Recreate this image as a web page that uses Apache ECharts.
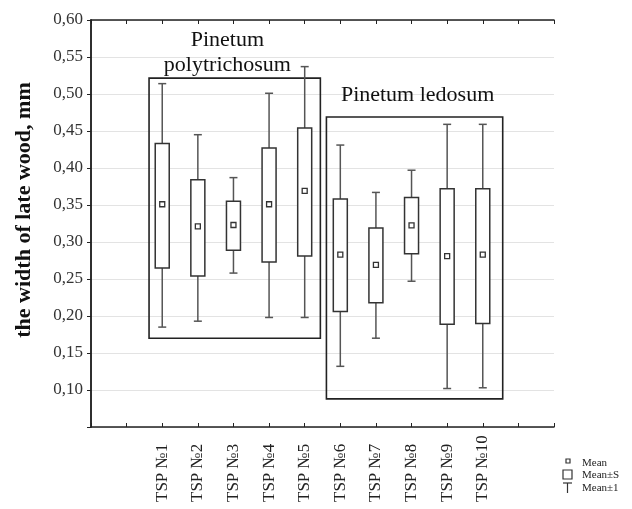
<!DOCTYPE html>
<html>
<head>
<meta charset="utf-8">
<script src="https://cdn.jsdelivr.net/npm/echarts@6/dist/echarts.min.js"></script>
<style>
html,body{margin:0;padding:0;background:#fff;}
#chart{width:632px;height:509px;}
</style>
</head>
<body>
<div id="chart"></div>
<script>
// ---- data ----
const categories = ['TSP №1','TSP №2','TSP №3','TSP №4','TSP №5','TSP №6','TSP №7','TSP №8','TSP №9','TSP №10'];
const meanVals = [0.351,0.321,0.323,0.351,0.369,0.283,0.269,0.3225,0.281,0.283];
const sLow     = [0.265,0.254,0.289,0.273,0.281,0.206,0.218,0.284,0.189,0.190];
const sHigh    = [0.433,0.384,0.355,0.427,0.454,0.358,0.319,0.360,0.372,0.372];
const wLow     = [0.185,0.193,0.258,0.198,0.198,0.132,0.170,0.247,0.102,0.103];
const wHigh    = [0.514,0.445,0.387,0.501,0.537,0.431,0.367,0.397,0.459,0.459];
const yMin = 0.05, yMax = 0.60, yStep = 0.05;
const yTitle = 'the width of late wood, mm';
// group annotation frames (in axis units)
const groupLines = [['Pinetum','polytrichosum'],['Pinetum ledosum']];
const groupX0 = [1.63, 6.61];
const groupX1 = [6.44, 11.56];
const groupY0 = [0.170, 0.088];
const groupY1 = [0.5215, 0.469];
const groupLabelX = [3.83, 9.17];
const groupLabelY = [[0.573, 0.539],[0.4986]];
const legendTexts = ['Mean','Mean±S','Mean±1'];

const FONT = "'Liberation Serif','Times New Roman',serif";
const offset = 2; // category i is drawn at x = i + offset

const chart = echarts.init(document.getElementById('chart'), null, {renderer:'canvas'});

const boxData = categories.map((c,i)=>[i+offset, wLow[i], sLow[i], meanVals[i], sHigh[i], wHigh[i]]);

function renderBox(params, api){
  const x = api.value(0);
  const pWL = api.coord([x, api.value(1)]);
  const pQ1 = api.coord([x, api.value(2)]);
  const pM  = api.coord([x, api.value(3)]);
  const pQ3 = api.coord([x, api.value(4)]);
  const pWH = api.coord([x, api.value(5)]);
  const hb = 7, hc = 4, hm = 2.5;
  const wStyle = {stroke:'#555', lineWidth:1.5};
  const bStyle = {stroke:'#333', lineWidth:1.5, fill:'#fff'};
  return {type:'group', children:[
    {type:'line', shape:{x1:pWH[0], y1:pWH[1], x2:pQ3[0], y2:pQ3[1]}, style:wStyle},
    {type:'line', shape:{x1:pQ1[0], y1:pQ1[1], x2:pWL[0], y2:pWL[1]}, style:wStyle},
    {type:'line', shape:{x1:pWH[0]-hc, y1:pWH[1], x2:pWH[0]+hc, y2:pWH[1]}, style:wStyle},
    {type:'line', shape:{x1:pWL[0]-hc, y1:pWL[1], x2:pWL[0]+hc, y2:pWL[1]}, style:wStyle},
    {type:'rect', shape:{x:pQ3[0]-hb, y:pQ3[1], width:2*hb, height:pQ1[1]-pQ3[1]}, style:bStyle},
    {type:'rect', shape:{x:pM[0]-hm, y:pM[1]-hm, width:2*hm, height:2*hm}, style:{stroke:'#333', lineWidth:1.3, fill:'#fff'}}
  ]};
}

const groupData = groupLines.map((g,i)=>[groupX0[i], groupY0[i], groupX1[i], groupY1[i], i]);
function renderGroup(params, api){
  const i = api.value(4);
  const a = api.coord([api.value(0), api.value(3)]);
  const b = api.coord([api.value(2), api.value(1)]);
  const children = [
    {type:'rect', shape:{x:a[0], y:a[1], width:b[0]-a[0], height:b[1]-a[1]},
     style:{stroke:'#222', lineWidth:1.6, fill:'none'}}
  ];
  groupLines[i].forEach((t,k)=>{
    const p = api.coord([groupLabelX[i], groupLabelY[i][k]]);
    children.push({type:'text', x:p[0], y:p[1],
      style:{text:t, fill:'#111', font:'22px '+FONT, align:'center', verticalAlign:'middle'}});
  });
  return {type:'group', children};
}

const option = {
  animation:false,
  backgroundColor:'#fff',
  grid:{left:91, right:78, top:20, bottom:82, containLabel:false},
  xAxis:[{
    type:'value', min:0, max:13, interval:1,
    axisLine:{show:true, lineStyle:{color:'#222', width:1.5}},
    axisTick:{show:true, inside:true, length:4, lineStyle:{color:'#222'}},
    splitLine:{show:false},
    axisLabel:{rotate:90, margin:9, color:'#222',
      formatter:v=>{const i=Math.round(v)-offset; return (i>=0&&i<categories.length)?'{a|'+categories[i]+'}':'';},
      rich:{a:{width:66, align:'left', fontFamily:FONT, fontSize:17, color:'#222'}}}
  },{
    type:'value', position:'top', min:0, max:13, interval:1,
    axisLine:{show:true, lineStyle:{color:'#222', width:1.5}},
    axisTick:{show:true, inside:true, length:4, lineStyle:{color:'#222'}},
    axisLabel:{show:false}, splitLine:{show:false}
  }],
  yAxis:[{
    type:'value', min:yMin, max:yMax, interval:yStep,
    axisLine:{show:true, lineStyle:{color:'#222', width:1.5}},
    axisTick:{show:true, inside:false, length:4, lineStyle:{color:'#222'}},
    splitLine:{show:true, lineStyle:{color:'#e3e3e3', width:1}},
    axisLabel:{margin:8, fontFamily:FONT, fontSize:17, color:'#333',
      formatter:v=> v < yMin + yStep/2 ? '' : v.toFixed(2).replace('.', ',')}
  },{
    type:'value', position:'right', min:yMin, max:yMax, interval:yStep,
    axisLine:{show:true, lineStyle:{color:'#222', width:1.5}},
    axisTick:{show:true, inside:true, length:4, lineStyle:{color:'#222'}},
    axisLabel:{show:false}, splitLine:{show:false}
  }],
  graphic:[
    {type:'text', x:24, y:210, rotation:Math.PI/2,
     style:{text:yTitle, font:'bold 22px '+FONT, fill:'#111', align:'center', verticalAlign:'middle'}},
    {type:'rect', shape:{x:566, y:459, width:4, height:4}, style:{stroke:'#333', lineWidth:1.2, fill:'#fff'}},
    {type:'text', x:582, y:463, style:{text:legendTexts[0], font:'11px '+FONT, fill:'#222', verticalAlign:'middle'}},
    {type:'rect', shape:{x:563, y:470, width:9, height:9}, style:{stroke:'#333', lineWidth:1.2, fill:'#fff'}},
    {type:'text', x:582, y:475, style:{text:legendTexts[1], font:'11px '+FONT, fill:'#222', verticalAlign:'middle'}},
    {type:'line', shape:{x1:563, y1:483, x2:572, y2:483}, style:{stroke:'#333', lineWidth:1.2}},
    {type:'line', shape:{x1:567.5, y1:483, x2:567.5, y2:493}, style:{stroke:'#333', lineWidth:1.2}},
    {type:'text', x:582, y:488, style:{text:legendTexts[2], font:'11px '+FONT, fill:'#222', verticalAlign:'middle'}}
  ],
  series:[
    {type:'custom', xAxisIndex:0, yAxisIndex:0, data:groupData, renderItem:renderGroup, z:2, silent:true,
     encode:{x:[0,2], y:[1,3]}},
    {type:'custom', xAxisIndex:0, yAxisIndex:0, data:boxData, renderItem:renderBox, z:3,
     encode:{x:0, y:[1,2,3,4,5]}}
  ]
};
chart.setOption(option);
</script>
</body>
</html>
